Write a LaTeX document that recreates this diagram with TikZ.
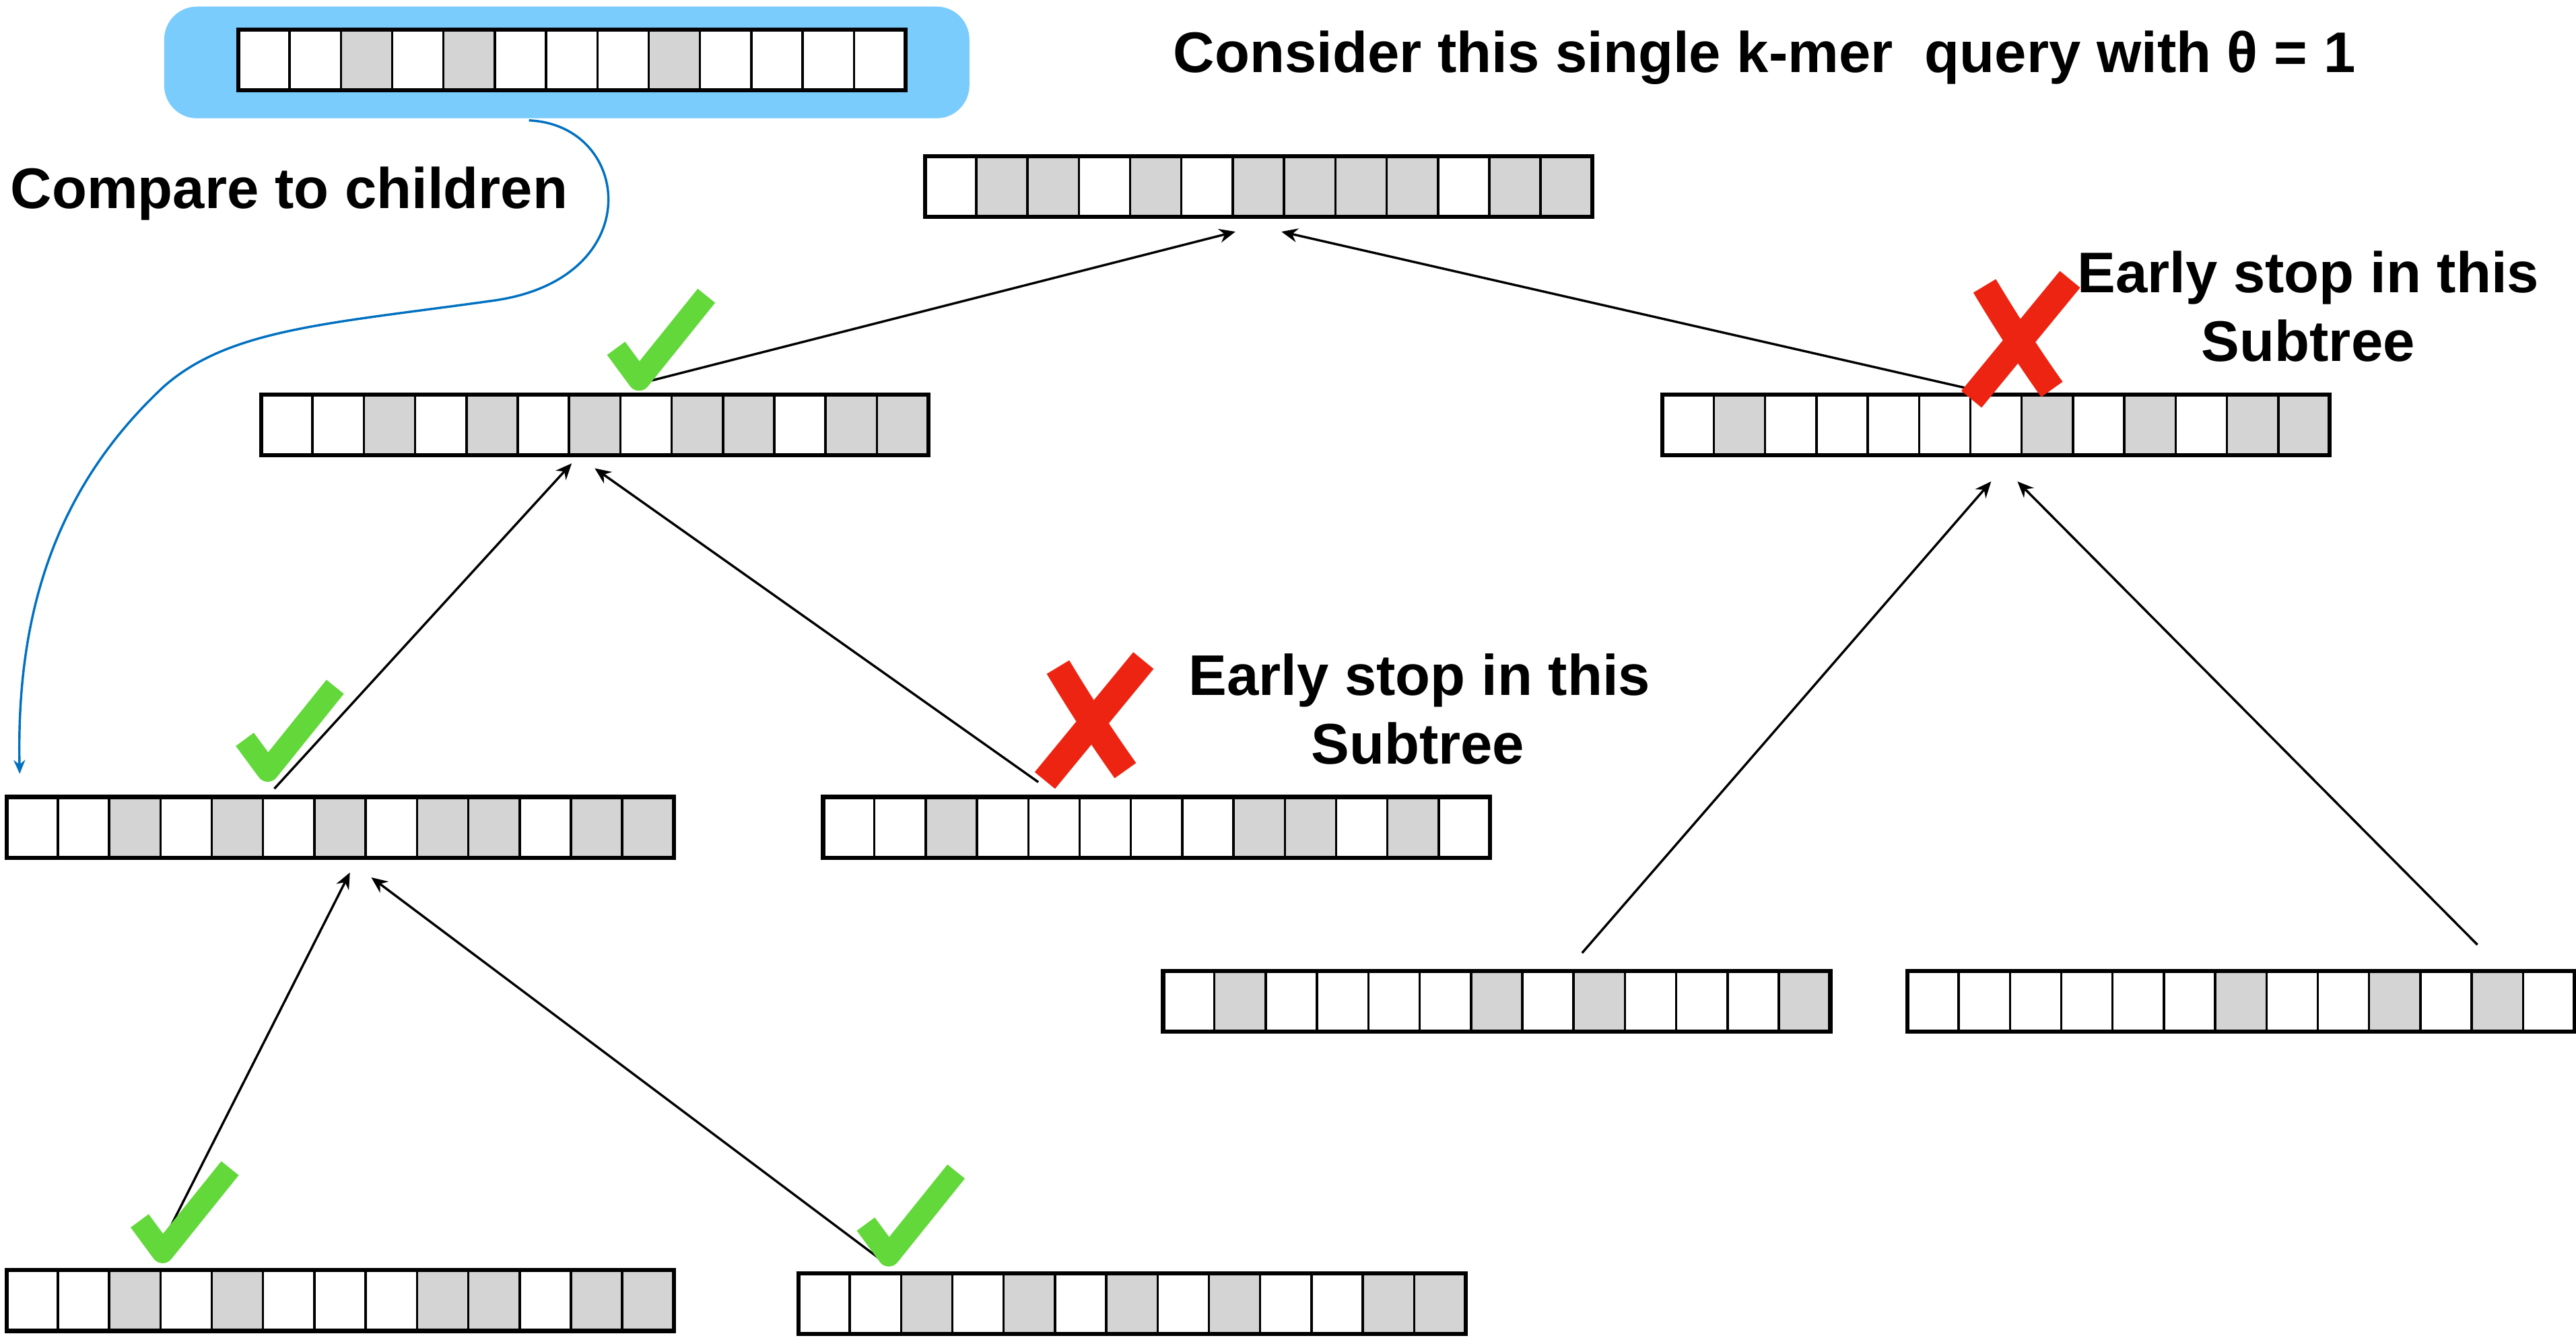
\documentclass[tikz,border=0pt]{standalone}
\usepackage{fontspec}
\setmainfont{Liberation Sans}
\usetikzlibrary{calc,arrows.meta}

\definecolor{cellgray}{RGB}{212,212,212}
\definecolor{querybg}{RGB}{122,204,253}
\definecolor{curveblue}{RGB}{0,112,192}
\definecolor{tickgreen}{RGB}{98,216,58}
\definecolor{crossred}{RGB}{238,36,18}

\tikzset{
  barnode/.style={inner sep=0pt, outer sep=0pt, minimum width=10.15cm, minimum height=0.925cm},
  bitcell/.style={draw=black, line width=1pt},
  barframe/.style={draw=black, line width=1.8pt},
  conn/.style={draw=black, line width=1pt, -{Stealth[length=7pt,width=6pt]}},
  txt/.style={font=\fontsize{24.8}{30}\selectfont\bfseries, inner sep=0pt},
  pics/checkmark/.style={code={
    \draw[tickgreen, line width=0.34cm, line join=round] (-14,-19) -- (0,0) -- (41,-51);
  }},
  pics/crossmark/.style={code={
    \draw[crossred, line width=0.4cm] (-21,-32) .. controls (-9,-12) and (5,10) .. (20,31);
    \draw[crossred, line width=0.4cm] (31,-36) -- (-29,37);
  }},
}

% a row of 13 bits: name, left x, top y, bit list (1 = set)
\newcommand\bitarray[4]{%
  \node[barnode, anchor=north west] (#1) at (#2,#3) {};
  \foreach \b [count=\i from 0] in {#4} {%
    \ifnum\b=1 \def\cellcol{cellgray}\else\def\cellcol{white}\fi
    \filldraw[bitcell, fill=\cellcol] ({#2+\i*31.23},#3) rectangle ++(31.23,37);
  }%
  \draw[barframe] (#1.north west) rectangle (#1.south east);
}

\begin{document}
\begin{tikzpicture}[x=0.025cm, y=-0.025cm]
\useasboundingbox (0,0) rectangle (1568,814);

% query k-mer with its highlight
\node[fill=querybg, rounded corners=0.5cm, minimum width=12.25cm, minimum height=1.7cm, inner sep=0pt]
  (qbox) at (345,38) {};
\bitarray{query}{145}{18}{0,0,1,0,1,0,0,0,1,0,0,0,0}

% tree of bit vectors
\bitarray{root}{563}{95}{0,1,1,0,1,0,1,1,1,1,0,1,1}
\bitarray{nodeA}{159}{240}{0,0,1,0,1,0,1,0,1,1,0,1,1}
\bitarray{nodeB}{1012}{240}{0,1,0,0,0,0,0,1,0,1,0,1,1}
\bitarray{nodeAA}{4}{485}{0,0,1,0,1,0,1,0,1,1,0,1,1}
\bitarray{nodeAB}{501}{485}{0,0,1,0,0,0,0,0,1,1,0,1,0}
\bitarray{nodeBA}{708}{591}{0,1,0,0,0,0,1,0,1,0,0,0,1}
\bitarray{nodeBB}{1161}{591}{0,0,0,0,0,0,1,0,0,1,0,1,0}
\bitarray{leafA}{4}{773}{0,0,1,0,1,0,0,0,1,1,0,1,1}
\bitarray{leafB}{486}{775}{0,0,1,0,1,0,1,0,1,0,0,1,1}

% child -> parent edges
\draw[conn] ($(nodeA.north west)+(236,-8)$) -- ($(root.south west)+(189,9)$);
\draw[conn] ($(nodeB.north west)+(184,-4)$) -- ($(root.south west)+(217,9)$);
\draw[conn] ($(nodeAA.north west)+(163,-5)$) -- ($(nodeA.south west)+(189,5)$);
\draw[conn] ($(nodeAB.north west)+(131,-9)$) -- ($(nodeA.south west)+(203,8)$);
\draw[conn] ($(leafA.north west)+(92,-11)$) -- ($(nodeAA.south west)+(209,9)$);
\draw[conn] ($(leafB.north west)+(52,-7)$) -- ($(nodeAA.south west)+(222,12)$);
\draw[conn] ($(nodeBA.north west)+(255,-11)$) -- ($(nodeB.south west)+(200,16)$);
\draw[conn] ($(nodeBB.north west)+(347,-16)$) -- ($(nodeB.south west)+(216,16)$);

% comparison path from the query down to the first child
\draw[curveblue, line width=1pt, -{Stealth[length=6pt,width=5pt]}]
  ($(qbox.south)+(-23,1)$) .. controls (385,76) and (395,170) .. (300,183)
  .. controls (200,197) and (140,200) .. (100,235)
  .. controls (30,300) and (10,380) .. ($(nodeAA.north west)+(8,-14)$);

% outcome marks
\pic at (389,231) {checkmark};
\pic at (163,469) {checkmark};
\pic at (99,762) {checkmark};
\pic at (541,764) {checkmark};
\pic at (1229,206) {crossmark};
\pic at (665,438) {crossmark};

% text
\node[txt, anchor=base] (title) at (1074,44) {Consider this single k-mer\ \ query with θ = 1};
\node[txt, anchor=base] (cmp) at (176,127) {Compare to children};
\node[txt, anchor=base] (stopB1) at (1405,178) {Early stop in this};
\node[txt, anchor=base] (stopB2) at (1405,220) {Subtree};
\node[txt, anchor=base] (stopA1) at (864,423) {Early stop in this};
\node[txt, anchor=base] (stopA2) at (863,465) {Subtree};
\end{tikzpicture}
\end{document}
